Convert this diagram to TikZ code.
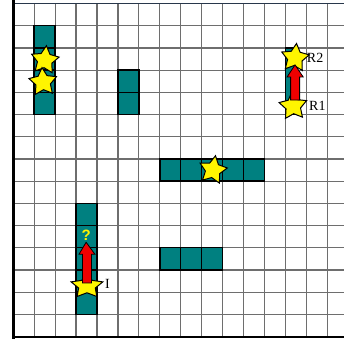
\documentclass[tikz,border=0pt]{standalone}
\usepackage{fontspec}
\setmainfont{Liberation Serif}
\setsansfont{Liberation Sans}
\usepackage{tikz}
\usetikzlibrary{arrows.meta, positioning, calc, shapes.geometric}
\definecolor{cellteal}{RGB}{0, 128, 128}
\definecolor{staryellow}{RGB}{255, 245, 0}
\definecolor{arrowred}{RGB}{240, 0, 0}
\definecolor{gridgray}{RGB}{110, 110, 110}
\definecolor{topline}{RGB}{40, 55, 75}

% block arrow from #1 (tail) up to #2 (tip)
\newcommand{\blockarrow}[2]{%
    \draw[arrowbody] let \p1=(#1), \p2=(#2) in
        (\x1-4.5pt,\y1) -- (\x1-4.5pt,\y2-12pt) -- (\x1-8pt,\y2-12pt) -- (\x2,\y2)
        -- (\x1+8pt,\y2-12pt) -- (\x1+4.5pt,\y2-12pt) -- (\x1+4.5pt,\y1) -- cycle;}

\begin{document}
\begin{tikzpicture}[x=20.93pt, y=-22.2pt,
    gridline/.style={draw=gridgray, line width=1.2pt},
    cellbox/.style={draw=black, line width=1.5pt, fill=cellteal},
    starmark/.style={star, star points=5, star point ratio=1.9, minimum size=29pt,
        inner sep=0pt, draw=black, line width=1pt, fill=staryellow},
    arrowbody/.style={draw=black, line width=0.8pt, fill=arrowred},
    lbl/.style={font=\fontsize{14}{16}\selectfont, inner sep=0pt, anchor=west}]
    \useasboundingbox (-0.635,-0.158) rectangle (15.8,15.25);
    \clip (-0.635,-0.158) rectangle (15.8,15.25);

    % Grid
    \foreach \i in {0,...,16}
        \draw[gridline] (\i,0) -- (\i,15);
    \foreach \j in {0,...,15}
        \draw[gridline] (0,\j) -- (15.8,\j);
    \draw[line width=1.2pt, draw=topline] (0,0) -- (15.8,0);
    \draw[line width=2.6pt] (0,-0.16) -- (0,15.1);
    \draw[line width=2.6pt] (0,15.02) -- (15.8,15.02);

    % Blocks
    \foreach \c/\r in {1/1,1/2,1/3,1/4, 5/3,5/4, 7/7,8/7,9/7,10/7,11/7,
                       3/9,3/10,3/11,3/12,3/13, 7/11,8/11,9/11}
        \draw[cellbox] (\c,\r) rectangle ++(1,1);
    \draw[cellbox] (13,2) rectangle (13.54,5);

    % Stars
    \node[starmark, rotate=-6] (s-a) at (1.51,2.55) {};
    \node[starmark, rotate=4] (s-b) at (1.42,3.54) {};
    \node[starmark, rotate=-10] (s-c) at (9.54,7.5) {};
    \node[starmark, rotate=-6] (s-r2) at (13.46,2.45) {};
    \node[starmark, rotate=4] (s-r1) at (13.37,4.62) {};
    \node[starmark, xscale=1.15, yscale=0.9] (s-i) at (3.52,12.72) {};

    % Arrows
    \node[text=staryellow, font=\sffamily\bfseries\fontsize{15}{17}\selectfont, inner sep=0pt] (q) at (3.48,10.42) {?};
    \blockarrow{[xshift=2pt,yshift=6pt]s-r1.center}{[yshift=-7pt]s-r2.center}
    \blockarrow{[yshift=3pt]s-i.center}{[yshift=-2pt]q.south}

    % Labels
    \node[lbl] at (14.02,2.43) {R2};
    \node[lbl] at (14.13,4.62) {R1};
    \node[lbl] at (4.38,12.64) {I};
\end{tikzpicture}
\end{document}
